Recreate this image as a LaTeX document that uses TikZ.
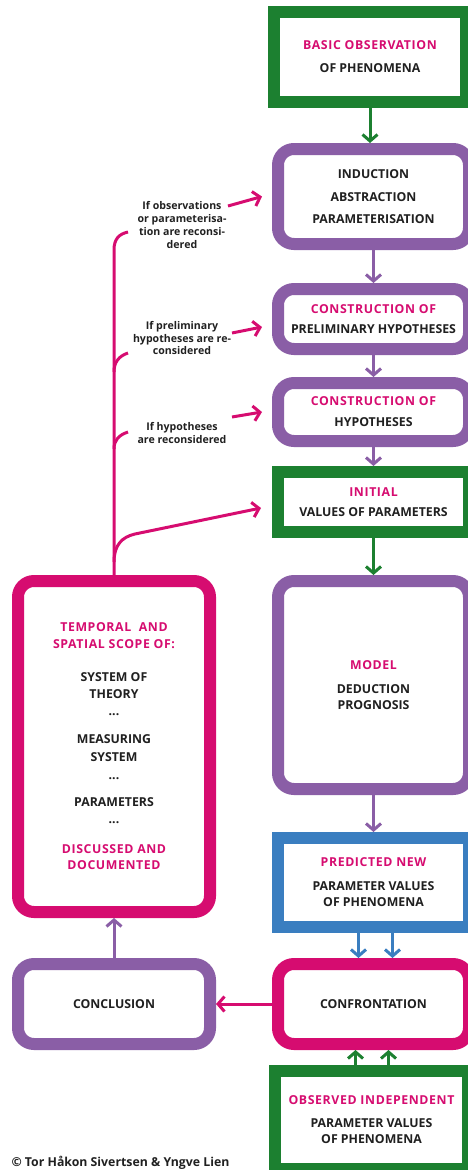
\documentclass[tikz,border=0pt]{standalone}
\usepackage{fontspec}
\setmainfont{Open Sans}
\usetikzlibrary{arrows.meta,calc}
\definecolor{leaf}{RGB}{28,128,48}
\definecolor{plum}{RGB}{138,94,166}
\definecolor{hot}{RGB}{214,12,112}
\definecolor{sky}{RGB}{58,126,192}
\definecolor{ink}{RGB}{32,32,32}
\newcommand{\hd}[1]{{\addfontfeature{LetterSpace=5}\color{hot}#1}}
\begin{document}
\begin{tikzpicture}[x=1pt,y=-1pt,
  frame/.style={draw, line width=12pt, fill=white, inner sep=0pt, align=center,
    text=ink, font=\bfseries\fontsize{12.3}{16}\selectfont},
  sq/.style={frame},
  rnd/.style={frame, rounded corners=16pt},
  flow/.style={line width=3pt, -{Straight Barb[length=6.5pt,width=15pt]}},
  feed/.style={line width=3pt, hot},
  note/.style={align=center, text=ink, font=\bfseries\fontsize{10.6}{12.8}\selectfont},
]
\useasboundingbox (0,0) rectangle (468,1170);
\clip (0,0) rectangle (468,1170);

% right column
\node[sq, draw=leaf, minimum width=192pt, minimum height=90pt] (obs) at (370,57)
  {\hd{BASIC OBSERVATION}\\[7pt]OF PHENOMENA};
\node[rnd, draw=plum, minimum width=191pt, minimum height=95pt] (ind) at (373.5,196.5)
  {INDUCTION\\[7pt]ABSTRACTION\\[6pt]PARAMETERISATION};
\node[rnd, draw=plum, minimum width=191pt, minimum height=60pt] (pre) at (373.5,319)
  {\hd{CONSTRUCTION OF}\\[4pt]PRELIMINARY HYPOTHESES};
\node[rnd, draw=plum, minimum width=191pt, minimum height=58pt] (hyp) at (373.5,412)
  {\hd{CONSTRUCTION OF}\\[5pt]HYPOTHESES};
\node[sq, draw=leaf, minimum width=191pt, minimum height=60pt] (ini) at (373.5,502)
  {\hd{INITIAL}\\[4pt]VALUES OF PARAMETERS};
\node[rnd, draw=plum, minimum width=191pt, minimum height=208pt] (mod) at (373.5,685)
  {\hd{MODEL}\\[8pt]DEDUCTION\\PROGNOSIS};
\node[sq, draw=sky, minimum width=191pt, minimum height=89pt] (pred) at (373.5,882.5)
  {\hd{PREDICTED NEW}\\[8pt]PARAMETER VALUES\\OF PHENOMENA};
\node[rnd, draw=hot, minimum width=191pt, minimum height=80pt] (conf) at (373.5,1004)
  {CONFRONTATION};
\node[sq, draw=leaf, minimum width=193pt, minimum height=98pt] (obsind) at (371.5,1120)
  {\hd{OBSERVED INDEPENDENT}\\[7pt]PARAMETER VALUES\\OF PHENOMENA};

% left column
\node[rnd, draw=hot, minimum width=192pt, minimum height=331pt,
  font=\bfseries\fontsize{12.3}{17}\selectfont] (temp) at (114,746.5)
  {\hd{TEMPORAL\ \ AND}\\
   \hd{SPATIAL SCOPE OF:}\\[16pt]
   SYSTEM OF\\
   THEORY\\
   ...\\[11pt]
   MEASURING\\[1pt]
   SYSTEM\\[1pt]
   ...\\[10pt]
   PARAMETERS\\
   ...\\[13pt]
   \hd{DISCUSSED AND}\\[-1pt]
   \hd{DOCUMENTED}};
\node[rnd, draw=plum, minimum width=192pt, minimum height=80pt] (concl) at (114,1004)
  {CONCLUSION};

% feedback labels
\node[note] (l1) at (182,225) {If observations\\or parameterisa-\\tion are reconsi-\\dered};
\node[note] (l2) at (182,338) {If preliminary\\hypotheses are re-\\considered};
\node[note] (l3) at (182,433) {If hypotheses\\are reconsidered};

\node[anchor=west, text=ink, font=\bfseries\fontsize{12.3}{14}\selectfont] (copy) at (8,1163)
  {© Tor Håkon Sivertsen \& Yngve Lien};

% main flow
\draw[flow, leaf] (obs.south) -- (obs.south |- ind.north);
\draw[flow, plum] (ind) -- (pre);
\draw[flow, plum] (pre) -- (hyp);
\draw[flow, plum] (hyp) -- (ini);
\draw[flow, leaf] (ini) -- (mod);
\draw[flow, plum] (mod) -- (pred);
\draw[flow, sky] ($(pred.south)+(-15,0)$) -- ($(conf.north)+(-15,0)$);
\draw[flow, sky] ($(pred.south)+(19,0)$) -- ($(conf.north)+(19,0)$);
\draw[flow, leaf] ($(obsind.north)+(-16,0)$) -- ($(conf.south)+(-18,0)$);
\draw[flow, leaf] ($(obsind.north)+(17,0)$) -- ($(conf.south)+(15,0)$);
\draw[flow, hot] (conf) -- (concl);
\draw[flow, plum] (concl) -- (temp);

% feedback line with its branches
\coordinate (j0) at (114,250);
\coordinate (e0) at (128,232);
\coordinate (j1) at (114,372);
\coordinate (e1) at (128,353);
\coordinate (j2) at (114,449);
\coordinate (e2) at (128,432);
\coordinate (j3) at (114,562);
\coordinate (k3) at (135,534);
\draw[feed] (temp.north) -- (j0) .. controls (114,239) and (119,234) .. (e0);
\draw[feed] (j1) .. controls (114,362) and (119,356) .. (e1);
\draw[feed] (j2) .. controls (114,440) and (119,435) .. (e2);
\draw[feed, -{Straight Barb[length=6.5pt,width=15pt]}]
  (j3) .. controls (114,545) and (122,537) .. (k3) -- ($(ini.west)+(-11,6)$);

% arrows from the labels
\coordinate (s1) at (228,206);
\coordinate (s2) at (232,333);
\coordinate (s3) at (232,417);
\draw[flow, hot] (s1) -- ($(ind.west)+(-10,0)$);
\draw[flow, hot] (s2) -- ($(pre.west)+(-10,8)$);
\draw[flow, hot] (s3) -- ($(hyp.west)+(-10,0)$);
\end{tikzpicture}
\end{document}
